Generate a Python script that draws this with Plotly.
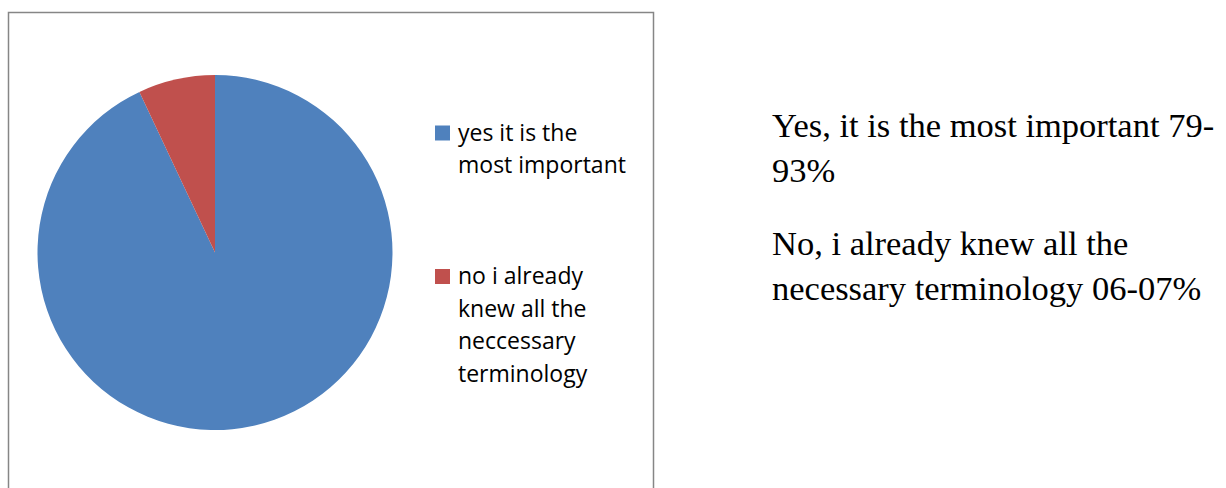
import plotly.graph_objects as go

# Survey answers and their shares (percent)
labels = [
    "yes it is the<br>most important",
    "no i already<br>knew all the<br>neccessary<br>terminology",
]
values = [93, 7]
colors = ["#4F81BD", "#C0504D"]

# Side commentary text
notes = [
    ["Yes, it is the most important 79-", "93%"],
    ["No, i already knew all the", "necessary terminology 06-07%"],
]

W, H = 1226, 488


def px(x):
    return x / W


def py(y):
    return 1 - y / H


fig = go.Figure()

fig.add_trace(go.Pie(
    labels=labels,
    values=values,
    marker=dict(colors=colors, line=dict(width=0)),
    sort=False,
    direction="clockwise",
    rotation=0,
    textinfo="none",
    hoverinfo="label+percent",
    showlegend=False,
    domain=dict(x=[px(37.5), px(392.5)], y=[py(430), py(75)]),
))

shapes = [
    # chart area frame
    dict(type="rect", xref="paper", yref="paper",
         x0=px(8.5), x1=px(653.5), y0=py(500), y1=py(12.5),
         line=dict(color="#868686", width=1.5), fillcolor="rgba(0,0,0,0)"),
]
annotations = []

# Legend: coloured square plus wrapped label lines
legend_first_baseline = [141.5, 285]
line_gap = 32.5
for lab, col, base in zip(labels, colors, legend_first_baseline):
    shapes.append(dict(type="rect", xref="paper", yref="paper",
                       x0=px(435), x1=px(450), y0=py(base - 1), y1=py(base - 16),
                       line=dict(width=0), fillcolor=col))
    for i, line in enumerate(lab.split("<br>")):
        annotations.append(dict(
            text=line, xref="paper", yref="paper",
            x=px(456), y=py(base + i * line_gap + 8),
            xanchor="left", yanchor="bottom", showarrow=False,
            font=dict(family="Open Sans", size=23, color="#000000"),
        ))

# Commentary to the right of the chart
note_first_baseline = [137, 255]
note_gap = 45
for para, base in zip(notes, note_first_baseline):
    for i, line in enumerate(para):
        annotations.append(dict(
            text=line, xref="paper", yref="paper",
            x=px(770), y=py(base + i * note_gap + 9),
            xanchor="left", yanchor="bottom", showarrow=False,
            font=dict(family="Liberation Serif", size=34.5, color="#000000"),
        ))

fig.update_layout(
    width=W, height=H,
    margin=dict(l=0, r=0, t=0, b=0),
    paper_bgcolor="#FFFFFF",
    plot_bgcolor="#FFFFFF",
    shapes=shapes,
    annotations=annotations,
)

fig.write_html("out.html", config={"displayModeBar": False})
